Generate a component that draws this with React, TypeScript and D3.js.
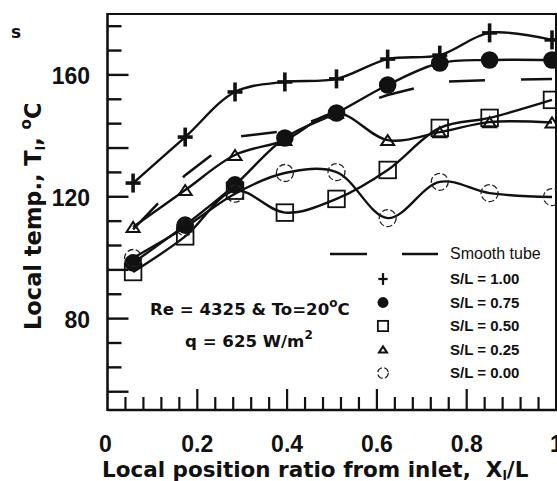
import React from "react";
import * as d3 from "d3";

const X_POS = [0.057, 0.173, 0.284, 0.395, 0.51, 0.624, 0.74, 0.851, 0.99];
const SL100 = [124.5, 139.6, 154.4, 157.7, 158.7, 165.2, 166.5, 173.8, 171.5];
const SL075 = [98.3, 110.7, 123.9, 139.3, 147.5, 156.7, 163.9, 164.9, 164.9];
const SL050 = [95.3, 107, 122, 114.8, 119.3, 128.8, 142.6, 145.9, 151.8];
const SL025 = [110.1, 122.2, 133.7, 138.6, 147.5, 138.6, 141.2, 144.5, 144.4];
const SL000 = [99.9, 110, 121, 127.8, 128.1, 113, 124.9, 121.2, 119.9];
const SMOOTH = [109.3, 127.1, 139.6, 141.6, 147.8, 153.4, 157.7, 158.3, 158.7];

const Y_LABELS = [80, 120, 160];
const Y_LONG = [56, 80, 96, 120, 136, 160];
const Y_MINOR = d3.range(56, 180, 8);
const X_LABELS = [0, 0.2, 0.4, 0.6, 0.8, 1];
const X_MINOR = d3.range(1, 25).map((i) => i * 0.04);

const LEGEND = ["S/L = 1.00", "S/L = 0.75", "S/L = 0.50", "S/L = 0.25", "S/L = 0.00"];
const MARKERS = ["plus", "dot", "square", "tri", "circ"];

const W = 557, H = 481;
const x = d3.scaleLinear().domain([0, 1]).range([107.5, 556.5]);
const y = d3.scaleLinear().domain([50, 180]).range([410, 14]);

const SANS = "'Liberation Sans', Arial, sans-serif";
const DJ = "'DejaVu Sans', sans-serif";

function Marker({ kind, cx, cy, s = 1 }: { kind: string; cx: number; cy: number; s?: number }) {
  if (kind === "plus")
    return (
      <g stroke="#111" strokeWidth={3.6 * s}>
        <line x1={cx - 7.5 * s} x2={cx + 7.5 * s} y1={cy} y2={cy} />
        <line x1={cx} x2={cx} y1={cy - 9.5 * s} y2={cy + 9.5 * s} />
      </g>
    );
  if (kind === "dot") return <circle cx={cx} cy={cy} r={8.8 * s} fill="#111" />;
  if (kind === "square")
    return <rect x={cx - 8.3 * s} y={cy - 8.3 * s} width={16.6 * s} height={16.6 * s} fill="none" stroke="#111" strokeWidth={1.8} />;
  if (kind === "tri")
    return (
      <path
        d={`M${cx - 6.5 * s},${cy + 5 * s}L${cx + 6.5 * s},${cy + 5 * s}L${cx},${cy - 5 * s}Z`}
        fill="none"
        stroke="#111"
        strokeWidth={2}
      />
    );
  return <circle cx={cx} cy={cy} r={8.5 * s} fill="none" stroke="#222" strokeWidth={1.3} strokeDasharray="6,2.5" />;
}

export default function App() {
  const series = [SL100, SL075, SL050, SL025, SL000];
  const curve = d3.line<number>().x((_, i) => x(X_POS[i])).y((d) => y(d)).curve(d3.curveCatmullRom.alpha(0.5));
  const straight = d3.line<number>().x((_, i) => x(X_POS[i])).y((d) => y(d));
  return (
    <div style={{ position: "fixed", left: 0, top: 0 }}>
      <svg width={W} height={H} style={{ display: "block", background: "#fff" }}>
        <rect width={W} height={H} fill="#fff" />
        {/* frame */}
        <line x1={x(0)} x2={W} y1={14} y2={14} stroke="#111" strokeWidth={2} />
        <line x1={556} x2={556} y1={14} y2={410} stroke="#111" strokeWidth={2} />
        <line x1={x(0)} x2={x(0)} y1={13} y2={411} stroke="#111" strokeWidth={2.6} />
        <line x1={x(0)} x2={W} y1={410} y2={410} stroke="#111" strokeWidth={2.6} />
        {/* y ticks */}
        {Y_MINOR.map((v) => (
          <line key={v} x1={x(0)} x2={x(0) + (Y_LONG.includes(v) ? 21 : 14)} y1={y(v)} y2={y(v)} stroke="#111" strokeWidth={2.4} />
        ))}
        {/* x ticks */}
        {X_MINOR.map((v, i) => {
          const long = Math.abs((v / 0.2) - Math.round(v / 0.2)) < 1e-6;
          return <line key={i} x1={x(v)} x2={x(v)} y1={410} y2={410 - (long ? 21 : 13)} stroke="#111" strokeWidth={2.2} />;
        })}
        {Y_LABELS.map((v) => (
          <text key={v} x={90} y={y(v) + 9} textAnchor="end" fontFamily={SANS} fontWeight="bold" fontSize={23} fill="#111">
            {v}
          </text>
        ))}
        {X_LABELS.map((v) => (
          <text key={v} x={x(v) - (v === 0 ? 2 : 0)} y={452} textAnchor="middle" fontFamily={SANS} fontWeight="bold" fontSize={23} fill="#111">
            {v === 0 ? "0" : v === 1 ? "1" : v.toFixed(1)}
          </text>
        ))}
        <text x={102} y={477} fontFamily={DJ} fontWeight="bold" fontSize={21.5} fill="#111">
          Local position ratio from inlet,{"\u00a0\u00a0"}X
          <tspan fontSize={13} dy={3}>l</tspan>
          <tspan dy={-3}>/L</tspan>
        </text>
        <text transform="translate(41,330) rotate(-90)" fontFamily={DJ} fontWeight="bold" fontSize={22.5} fill="#111">
          Local temp., T<tspan fontSize={13} dy={4}>l</tspan>
          <tspan dy={-4}>,{"\u00a0"}</tspan>
          <tspan fontSize={15} dy={-10}>o</tspan>
          <tspan dy={10}>C</tspan>
        </text>
        <text x={11} y={38} fontFamily={DJ} fontWeight="bold" fontSize={17} fill="#111">s</text>
        {/* annotation */}
        <text x={150} y={315} fontFamily={DJ} fontWeight="bold" fontSize={16.6} fill="#111">
          Re = 4325 &amp; To=20<tspan fontSize={12} dy={-8}>o</tspan>
          <tspan dy={8}>C</tspan>
        </text>
        <text x={185} y={347} fontFamily={DJ} fontWeight="bold" fontSize={16.6} fill="#111">
          q = 625 W/m<tspan fontSize={12} dy={-8}>2</tspan>
        </text>
        {/* smooth tube */}
        <path d={straight(SMOOTH) || ""} fill="none" stroke="#111" strokeWidth={2.5} strokeDasharray="36,36" />
        {/* series lines */}
        {series.map((s, i) => (
          <path key={i} d={curve(s) || ""} fill="none" stroke="#111" strokeWidth={2.4} />
        ))}
        {series.map((s, i) =>
          s.map((v, j) => <Marker key={`${i}-${j}`} kind={MARKERS[i]} cx={x(X_POS[j])} cy={y(v)} />)
        )}
        {/* legend */}
        <line x1={330} x2={367} y1={254} y2={254} stroke="#111" strokeWidth={2.4} />
        <line x1={402} x2={438} y1={254} y2={254} stroke="#111" strokeWidth={2.4} />
        <text x={450} y={259} fontFamily={SANS} fontSize={16} fill="#111">Smooth tube</text>
        {LEGEND.map((t, i) => (
          <g key={t}>
            <Marker kind={MARKERS[i]} cx={383} cy={279 + i * 23.5} s={0.62} />
            <text x={450} y={284 + i * 23.5} fontFamily={SANS} fontWeight="bold" fontSize={15} fill="#111">
              {t}
            </text>
          </g>
        ))}
      </svg>
    </div>
  );
}
